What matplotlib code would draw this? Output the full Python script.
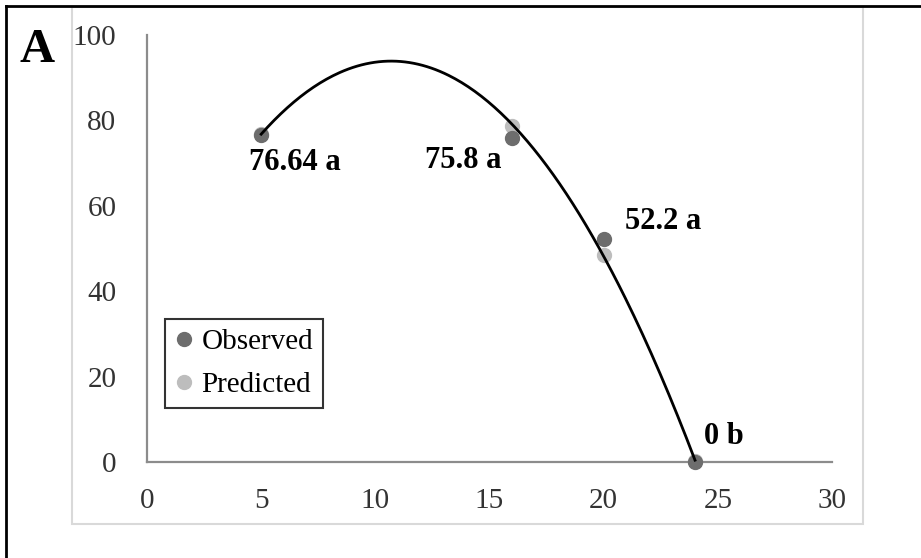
import numpy as np
import matplotlib
matplotlib.use("Agg")
import matplotlib.pyplot as plt
from matplotlib.patches import Rectangle
from matplotlib.lines import Line2D

# data
days = [5, 16, 20, 24]
observed = [76.64, 75.8, 52.2, 0.0]
predicted = [76.8, 78.8, 48.5, 0.3]
labels = ["76.64 a", "75.8 a", "52.2 a", "0 b"]
label_offsets = [(34, -28), (-49, -22), (59, 18), (29, 25)]  # pixels
xticks = [0, 5, 10, 15, 20, 25, 30]
yticks = [0, 20, 40, 60, 80, 100]

plt.rcParams['font.family'] = ['Liberation Serif', 'DejaVu Serif']

fig = plt.figure(figsize=(9.21, 5.58), dpi=100)

# outer black frame (only left/top visible) and inner light grey chart box
fig.add_artist(Line2D([6/921, 6/921], [0, 1-6/558], transform=fig.transFigure, color='black', lw=2))
fig.add_artist(Line2D([6/921, 1], [1-6/558, 1-6/558], transform=fig.transFigure, color='black', lw=2))
fig.add_artist(Rectangle((72/921, (558-524)/558), 791/921, 517/558, transform=fig.transFigure,
                         fill=False, edgecolor='#d9d9d9', lw=1.5))
fig.text(37/921, 1-50/558, "A", fontsize=35, fontweight='bold', ha='center', va='center')

ax = fig.add_axes([147/921, (558-462)/558, 685/921, 427/558])
ax.set_xlim(0, 30)
ax.set_ylim(0, 100)
for s in ['top', 'right']:
    ax.spines[s].set_visible(False)
for s in ['left', 'bottom']:
    ax.spines[s].set_color('#8c8c8c')
    ax.spines[s].set_linewidth(1.6)
ax.set_xticks(xticks)
ax.set_yticks(yticks)
ax.tick_params(length=0, labelsize=21, colors='#333333', pad=19)
ax.tick_params(axis='y', pad=22)

# quadratic trend line through predicted values
coef = np.polyfit(days, predicted, 2)
xs = np.linspace(days[0], days[-1], 200)
ax.plot(xs, np.polyval(coef, xs), color='black', lw=2, zorder=4, clip_on=False)

ax.plot(days, predicted, 'o', color='#bdbdbd', ms=10, label='Predicted', zorder=2, clip_on=False)
ax.plot(days, observed, 'o', color='#6d6d6d', ms=10, label='Observed', zorder=3, clip_on=False)

for x, y, t, off in zip(days, observed, labels, label_offsets):
    ax.annotate(t, (x, y), xytext=off, textcoords='offset pixels', ha='center', va='center',
                fontsize=22, fontweight='bold')

h, l = ax.get_legend_handles_labels()
leg = ax.legend(h[::-1], l[::-1], loc='lower left', bbox_to_anchor=((165-147)/685, (462-408)/427),
                borderaxespad=0, fancybox=False, edgecolor='black', fontsize=21,
                handlelength=0.6, handletextpad=0.3, borderpad=0.35, labelspacing=0.55)
leg.get_frame().set_linewidth(1.5)

fig.savefig("out.png", dpi=100)
